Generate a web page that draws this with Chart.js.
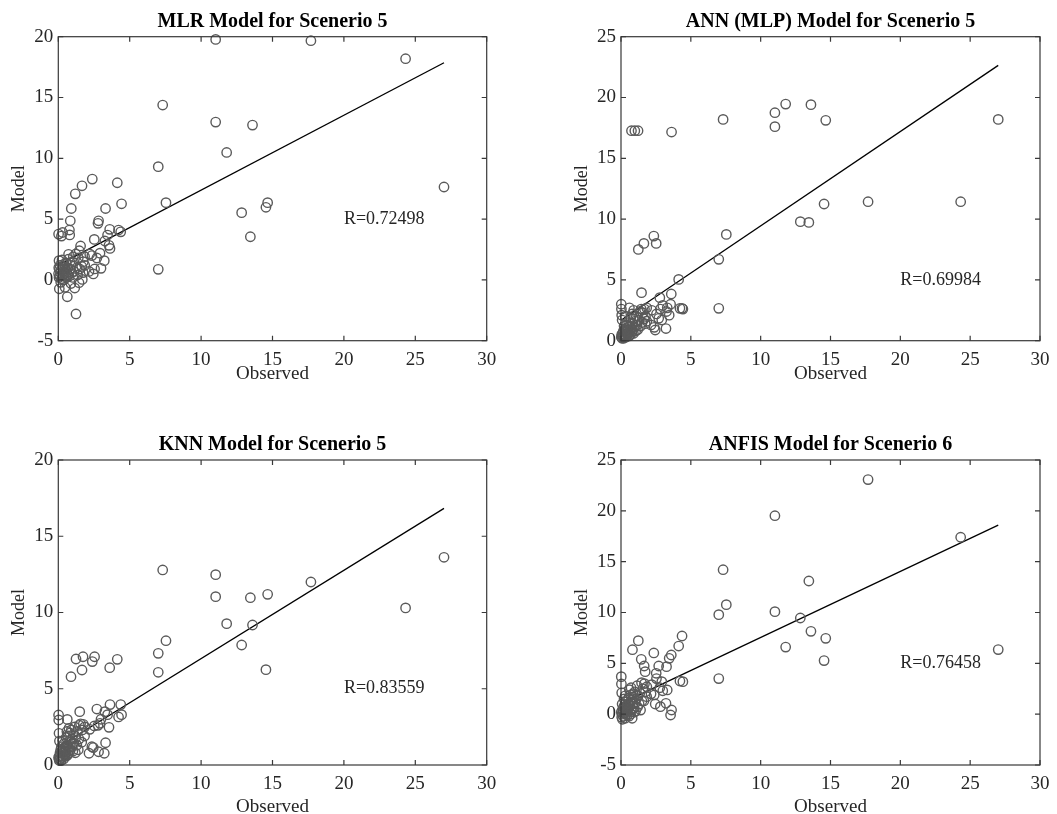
<!DOCTYPE html>
<html>
<head>
<meta charset="utf-8">
<script src="https://cdn.jsdelivr.net/npm/chart.js@4.4.1/dist/chart.umd.min.js"></script>
<style>
  html, body { margin: 0; padding: 0; background: #fff; overflow: hidden; }
  body { width: 1057px; height: 814px; position: relative; }
  .panel { position: absolute; }
</style>
</head>
<body>
<div class="panel" style="left:0;top:0;width:525px;height:400px"><canvas id="mlrChart"></canvas></div>
<div class="panel" style="left:563px;top:0;width:494px;height:400px"><canvas id="annChart"></canvas></div>
<div class="panel" style="left:0;top:414px;width:525px;height:400px"><canvas id="knnChart"></canvas></div>
<div class="panel" style="left:563px;top:414px;width:494px;height:400px"><canvas id="anfisChart"></canvas></div>
<script>
/* ===========================
   DATA
=========================== */

// observed values (same for every model)
const observed = [
    0.02, 0.02, 0.03, 0.05, 0.05, 0.07, 0.08, 0.10, 0.12, 0.15, 0.17, 0.20, 0.22, 0.25, 0.26,
    0.30, 0.30, 0.33, 0.35, 0.38, 0.40, 0.42, 0.45, 0.47, 0.50,
    0.52, 0.55, 0.58, 0.60, 0.63, 0.65, 0.68, 0.70, 0.72, 0.75, 0.78, 0.80, 0.82, 0.84, 0.87, 0.89,
    0.91, 0.95, 0.99, 1.02, 1.05, 1.10, 1.15, 1.19, 1.22, 1.24, 1.30, 1.35, 1.40, 1.45, 1.47, 1.50,
    1.56, 1.64, 1.66, 1.68, 1.73, 1.75, 1.84, 1.85, 2.15, 2.20, 2.35, 2.38, 2.45, 2.52, 2.54, 2.70,
    2.78, 2.82, 2.92, 2.99, 3.22, 3.26, 3.31, 3.45, 3.55, 3.60, 3.62, 4.13, 4.22, 4.37, 4.43,
    7.00, 7.00, 7.31, 7.54, 11.02, 11.02, 11.79, 12.84, 13.45, 13.60, 14.54, 14.66, 17.69, 24.32, 27.01
];

const mlrModel = [
    3.77, 0.5, 1.0, 0.2, 1.58, -0.73, 0.9, 0.3, 1.2, 0.6, -0.2, 0.8, 3.6, 0.1, 1.64,
    3.9, 0.4, 1.1, 0.7, 0.0, 1.3, 0.5, 0.9, -0.61, 0.3,
    0.8, 1.4, 0.2, 0.6, -1.39, 1.0, 0.4, 1.7, 2.1, 0.3, 4.1, 3.7, 0.9, 4.86, 1.2, -0.3,
    5.87, 0.6, 1.5, 0.2, 1.9, 0.7, -0.67, 7.08, 2.13, -2.8, 1.0, 0.4, 1.8, -0.23, 2.4, 0.9,
    2.79, 1.1, 7.74, 0.04, 0.6, 1.5, 1.91, 1.2, 0.7, 2.13, 2.0, 8.29, 0.49, 3.33, 0.9, 1.8,
    4.65, 4.86, 2.2, 0.95, 1.58, 3.2, 5.87, 3.69, 2.84, 4.16, 2.59, 7.99, 4.1, 3.95, 6.26,
    9.31, 0.87, 14.38, 6.35, 19.78, 12.98, 10.48, 5.53, 3.55, 12.73, 5.97, 6.35, 19.67, 18.19, 7.64
];

const annModel = [
    3.0, 0.3, 2.6, 0.5, 2.1, 0.2, 1.7, 0.4, 0.6, 0.3, 0.8, 0.2, 1.2, 0.5, 0.9,
    2.0, 0.4, 0.7, 1.0, 0.3, 1.3, 0.6, 0.9, 0.5, 1.1,
    0.6, 1.5, 0.4, 2.7, 0.8, 1.2, 0.5, 1.9, 1.0, 17.27, 0.7, 2.2, 1.4, 0.9, 1.8, 0.6,
    2.5, 1.1, 17.27, 1.6, 0.8, 2.0, 1.3, 0.9, 17.27, 7.51, 1.7, 2.4, 1.2, 2.6, 3.95, 1.5,
    2.3, 8.0, 1.8, 2.6, 1.4, 2.0, 2.7, 1.6, 1.3, 2.5, 8.6, 1.1, 0.88, 8.0, 2.2, 1.84,
    3.54, 2.6, 1.7, 2.9, 1.0, 2.4, 2.7, 2.1, 3.0, 3.84, 17.16, 5.04, 2.66, 2.66, 2.6,
    6.69, 2.66, 18.2, 8.74, 18.75, 17.6, 19.46, 9.79, 9.73, 19.41, 11.24, 18.12, 11.43, 11.43, 18.2
];

const knnModel = [
    3.28, 0.5, 2.95, 0.4, 2.08, 0.3, 1.57, 0.6, 0.8, 0.4, 1.0, 0.3, 1.2, 0.6, 0.9,
    1.6, 0.5, 0.8, 1.1, 0.4, 1.4, 0.7, 0.9, 0.6, 1.2,
    0.9, 1.8, 0.6, 2.2, 2.99, 1.3, 0.7, 1.9, 1.1, 2.4, 0.8, 1.6, 2.1, 1.0, 1.5, 5.79,
    2.3, 1.2, 1.7, 0.9, 2.0, 1.4, 2.5, 0.8, 1.8, 6.95, 1.3, 2.2, 1.0, 1.7, 2.6, 3.5,
    2.7, 1.5, 6.23, 2.3, 7.1, 2.67, 1.9, 2.5, 0.77, 2.34, 1.2, 6.78, 1.14, 2.56, 7.1, 3.67,
    2.6, 0.87, 2.73, 3.0, 0.77, 3.5, 1.46, 3.3, 2.47, 6.38, 3.96, 6.93, 3.15, 3.96, 3.3,
    7.32, 6.08, 12.79, 8.15, 12.48, 11.04, 9.27, 7.87, 10.97, 9.18, 6.25, 11.19, 12.0, 10.3, 13.62
];

const anfisModel = [
    3.69, 0.2, 2.97, -0.3, 2.1, 0.0, 1.0, -0.5, 0.5, 0.3, -0.2, 0.7, 1.5, 0.1, 0.9,
    1.8, -0.4, 0.4, 1.2, 0.0, 0.8, 0.3, -0.1, 0.6, 1.0,
    0.5, 1.6, -0.2, 2.4, 0.8, 1.2, 0.0, 1.9, 2.6, 0.4, 1.4, -0.4, 6.34, 1.0, 2.0, 0.6,
    1.7, 0.2, 2.2, 1.1, 0.3, 1.5, 2.8, 0.7, 1.8, 7.23, 1.0, 2.1, 0.4, 5.39, 3.1, 1.3,
    2.5, 1.3, 4.74, 3.0, 4.18, 2.2, 1.72, 2.7, 2.0, 2.9, 6.02, 1.89, 1.0, 4.02, 3.5, 4.74,
    2.6, 0.74, 3.2, 2.3, 1.07, 4.67, 2.38, 5.49, -0.08, 5.82, 0.41, 6.7, 3.26, 7.69, 3.2,
    9.79, 3.5, 14.21, 10.77, 19.52, 10.08, 6.6, 9.46, 13.1, 8.15, 5.27, 7.46, 23.07, 17.4, 6.35
];

const models = [mlrModel, annModel, knnModel, anfisModel];
const titles = [
    "MLR Model for Scenerio 5",
    "ANN (MLP) Model for Scenerio 5",
    "KNN Model for Scenerio 5",
    "ANFIS Model for Scenerio 6"
];
const rValues = ["0.72498", "0.69984", "0.83559", "0.76458"];

// fitted line: model value at the smallest and largest observed value
const fitStart = [1.23, 1.70, 1.20, 1.07];
const fitEnd = [17.86, 22.64, 16.83, 18.60];

const yMin = [-5, 0, 0, -5];
const yMax = [20, 25, 20, 25];
const xMin = 0, xMax = 30, tickStep = 5;

// where the R label sits (data units)
const rLabelAt = [20, 5];

/* ===========================
   LAYOUT (per canvas)
=========================== */

const canvasIds = ["mlrChart", "annChart", "knnChart", "anfisChart"];
const layoutOf = [
    { yW: 58.3, xH: 59.3, padR: 38.3, tTop: 10, tBot: 2.7, xTitleBot: 14.5 },
    { yW: 58.0, xH: 59.3, padR: 9.7, tTop: 10, tBot: 2.7, xTitleBot: 14.5 },
    { yW: 58.3, xH: 49.0, padR: 38.3, tTop: 19, tBot: 3.0, xTitleBot: -4.9 },
    { yW: 58.0, xH: 49.0, padR: 9.7, tTop: 19, tBot: 3.0, xTitleBot: -4.9 }
];

const axisColor = '#383838';
const textColor = '#262626';
const markerColor = '#5a5a5a';

Chart.defaults.font.family = '"Liberation Serif", "Times New Roman", serif';
Chart.defaults.color = textColor;

/* ===========================
   MATLAB STYLE BOX + TICKS
=========================== */

const boxTicks = {
    id: 'boxTicks',
    afterDraw(chart, args, opts) {
        const { ctx, chartArea: a, scales: { x, y } } = chart;
        const len = 5;
        ctx.save();
        ctx.strokeStyle = axisColor;
        ctx.lineWidth = 1.2;
        ctx.strokeRect(a.left, a.top, a.right - a.left, a.bottom - a.top);
        ctx.beginPath();
        x.ticks.forEach(t => {
            const px = x.getPixelForValue(t.value);
            ctx.moveTo(px, a.bottom); ctx.lineTo(px, a.bottom - len);
            ctx.moveTo(px, a.top); ctx.lineTo(px, a.top + len);
        });
        y.ticks.forEach(t => {
            const py = y.getPixelForValue(t.value);
            ctx.moveTo(a.left, py); ctx.lineTo(a.left + len, py);
            ctx.moveTo(a.right, py); ctx.lineTo(a.right - len, py);
        });
        ctx.stroke();

        // R value text
        ctx.fillStyle = textColor;
        ctx.font = '18px "Liberation Serif"';
        ctx.textBaseline = 'middle';
        ctx.textAlign = 'left';
        ctx.fillText('R=' + opts.r, x.getPixelForValue(rLabelAt[0]), y.getPixelForValue(rLabelAt[1]));
        ctx.restore();
    }
};

/* ===========================
   CHARTS
=========================== */

const xFirst = Math.min(...observed);
const xLast = Math.max(...observed);

models.forEach((model, i) => {
    const lay = layoutOf[i];
    new Chart(document.getElementById(canvasIds[i]), {
        type: 'scatter',
        data: {
            datasets: [{
                data: observed.map((o, k) => ({ x: o, y: model[k] })),
                backgroundColor: 'rgba(0,0,0,0)',
                borderColor: markerColor,
                borderWidth: 1.4,
                pointRadius: 4.7,
                clip: 8
            }, {
                type: 'line',
                data: [{ x: xFirst, y: fitStart[i] }, { x: xLast, y: fitEnd[i] }],
                borderColor: '#000',
                borderWidth: 1.3,
                pointRadius: 0,
                fill: false
            }]
        },
        options: {
            responsive: true,
            maintainAspectRatio: false,
            animation: false,
            layout: { padding: { left: 0, top: 0, bottom: 0, right: lay.padR } },
            scales: {
                x: {
                    type: 'linear',
                    min: xMin,
                    max: xMax,
                    grid: { display: false, drawTicks: false },
                    border: { display: false },
                    ticks: {
                        stepSize: tickStep,
                        maxRotation: 0,
                        autoSkip: false,
                        padding: 7.5,
                        color: textColor,
                        font: { size: 19 }
                    },
                    title: {
                        display: true,
                        text: 'Observed',
                        color: textColor,
                        font: { size: 19 },
                        padding: { top: 0, bottom: lay.xTitleBot }
                    },
                    afterFit: s => { s.height = lay.xH; }
                },
                y: {
                    min: yMin[i],
                    max: yMax[i],
                    grid: { display: false, drawTicks: false },
                    border: { display: false },
                    ticks: {
                        stepSize: tickStep,
                        padding: 5,
                        color: textColor,
                        font: { size: 19 }
                    },
                    title: {
                        display: true,
                        text: 'Model',
                        color: textColor,
                        font: { size: 18 },
                        padding: { top: 8.2, bottom: 0 }
                    },
                    afterFit: s => { s.width = lay.yW; }
                }
            },
            plugins: {
                legend: { display: false },
                tooltip: { enabled: false },
                title: {
                    display: true,
                    text: titles[i],
                    color: '#000',
                    fullSize: false,
                    font: { size: 20, weight: 'bold' },
                    padding: { top: lay.tTop, bottom: lay.tBot }
                },
                boxTicks: { r: rValues[i] }
            }
        },
        plugins: [boxTicks]
    });
});
</script>
</body>
</html>
